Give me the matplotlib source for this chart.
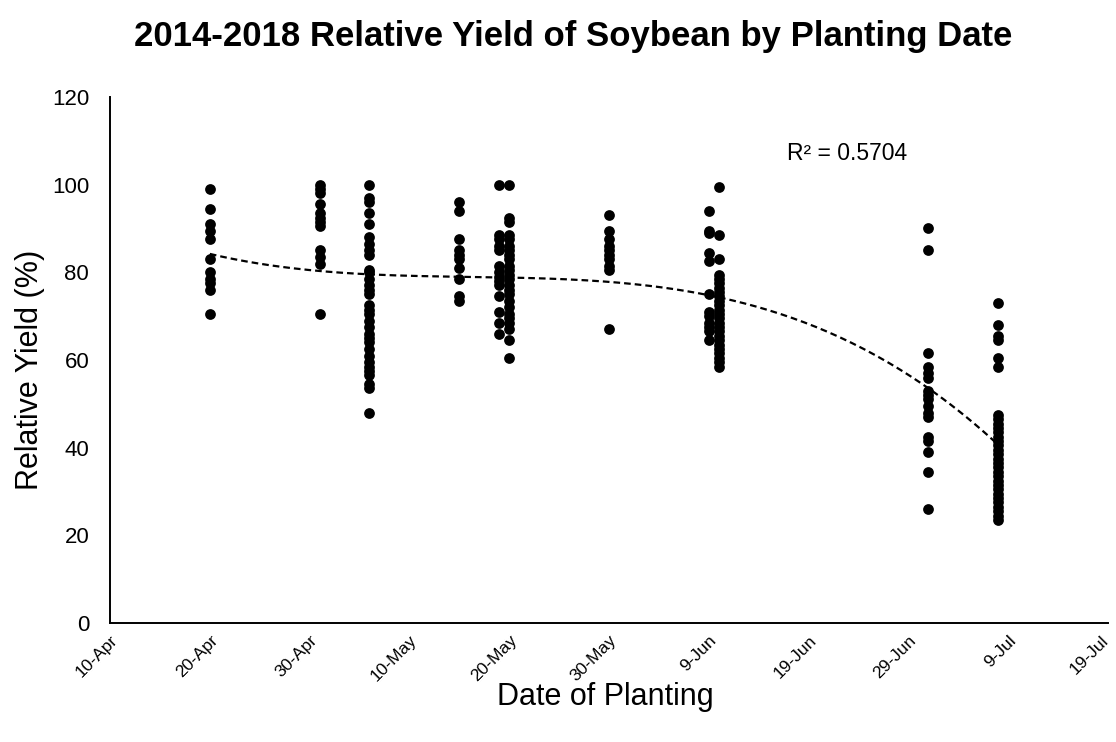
import numpy as np
import pandas as pd
import matplotlib
matplotlib.use('Agg')
import matplotlib.pyplot as plt
import matplotlib.dates as mdates
import matplotlib.transforms as mtransforms

plt.rcParams['font.family'] = ['Liberation Sans', 'DejaVu Sans']

# planting dates (one column of points each)
plant_dates = ['2018-04-20', '2018-05-01', '2018-05-06', '2018-05-15', '2018-05-19',
               '2018-05-20', '2018-05-30', '2018-06-09', '2018-06-10', '2018-07-01',
               '2018-07-08']

y_apr20 = [99, 94.5, 91, 89.5, 87.5, 83, 80, 78.5, 77.5, 76, 70.5]
y_may01 = [100, 99, 98, 95.5, 93.5, 92.5, 91.5, 90.5, 85, 83.5, 82, 70.5]
y_may06 = [100, 97, 96, 93.5, 91, 88, 86.5, 85, 84, 80.5, 80, 78.5, 77, 76, 75,
           72.5, 71.5, 70.5, 69, 67.5, 66, 65, 64, 62.5, 61, 59.5, 58.5, 57.5, 56.5,
           54.5, 53.5, 48]
y_may15 = [96, 94, 87.5, 85, 84, 83, 81, 78.5, 74.5, 73.5]
y_may19 = [100, 88.5, 87.5, 86, 85, 81.5, 80, 79, 78, 77, 74.5, 71, 68.5, 66]
y_may20 = [100, 92.5, 91.5, 88.5, 87.5, 86, 85, 84, 83, 81.5, 80.5, 79.5, 78.5, 77,
           76, 75, 73.5, 72, 70.5, 69.5, 68.5, 67, 64.5, 60.5]
y_may30 = [93, 89.5, 87.5, 86, 85, 84, 83, 81.5, 80.5, 67]
y_jun09 = [94, 89.5, 89, 84.5, 82.5, 75, 71, 70, 68.5, 67.5, 66.5, 64.5]
y_jun10 = [99.5, 88.5, 83, 79.5, 78.5, 77.5, 76.5, 75.5, 74.5, 73.5, 72.5, 71.5, 70.5,
           69.5, 68.5, 67.5, 66.5, 65.5, 64.5, 63.5, 62.5, 61.5, 60.5, 59.5, 58.5]
y_jul01 = [90, 85, 61.5, 58.5, 57, 56, 53, 52, 51, 49.5, 48, 47, 42.5, 41.5, 39,
           34.5, 26]
y_jul08 = [73, 68, 65.5, 64.5, 60.5, 58.5, 47.5, 46.5, 45.5, 44.5, 43.5, 42.5, 41.5,
           40.5, 39.5, 38.5, 37.5, 36.5, 35.5, 34.5, 33.5, 32.5, 31.5, 30.5, 29.5,
           28.5, 27.5, 26.5, 25.5, 24.5, 23.5]

yield_lists = [y_apr20, y_may01, y_may06, y_may15, y_may19, y_may20, y_may30,
               y_jun09, y_jun10, y_jul01, y_jul08]

tick_labels = ['10-Apr', '20-Apr', '30-Apr', '10-May', '20-May', '30-May', '9-Jun',
               '19-Jun', '29-Jun', '9-Jul', '19-Jul']

#%%
x_all = []
y_all = []
for d, ys in zip(plant_dates, yield_lists):
    x_all += [pd.Timestamp(d)] * len(ys)
    y_all += ys
x_num = mdates.date2num(x_all)
y_all = np.array(y_all)

# 3rd order polynomial trendline, like excel
coef = np.polyfit(x_num, y_all, 3)
x_line = np.linspace(x_num.min(), x_num.max(), 200)
y_line = np.polyval(coef, x_line)

fig = plt.figure(figsize=(11.16, 7.42), dpi=100)
ax = fig.add_axes([0.0986, 0.1604, 0.8942, 0.7089])

ax.scatter(x_num, y_all, s=60, color='black', zorder=3, linewidths=0)
ax.plot(x_line, y_line, color='black', linestyle=(0, (3, 1.8)), linewidth=1.6, zorder=2)

start = mdates.date2num(pd.Timestamp('2018-04-10'))
ticks = start + np.arange(len(tick_labels)) * 10
ax.set_xlim(ticks[0], ticks[-1])
ax.set_xticks(ticks)
ax.set_xticklabels(tick_labels, rotation=45, ha='right', rotation_mode='anchor', fontsize=12.5)
ax.set_ylim(0, 120)
ax.set_yticks(np.arange(0, 121, 20))
ax.tick_params(axis='y', labelsize=16, length=0, pad=15)
ax.tick_params(axis='x', length=0, pad=7)
# keep the last label inside the picture
last = ax.get_xticklabels()[-1]
last.set_transform(last.get_transform() +
                   mtransforms.ScaledTranslation(-0.07, 0, fig.dpi_scale_trans))

for side in ['top', 'right']:
    ax.spines[side].set_visible(False)
for side in ['left', 'bottom']:
    ax.spines[side].set_linewidth(1.4)
    ax.spines[side].set_color('black')

ax.set_xlabel('Date of Planting', fontsize=22)
ax.xaxis.set_label_coords(0.496, -0.112)
ax.set_ylabel('Relative Yield (%)', fontsize=22)
ax.yaxis.set_label_coords(-0.065, 0.481)
ax.text(start + 67.8, 107.2, 'R² = 0.5704', fontsize=16.5, va='center')
fig.suptitle('2014-2018 Relative Yield of Soybean by Planting Date', fontsize=25,
             fontweight='bold', x=0.514, y=0.973)

fig.savefig('out.png', dpi=100)
